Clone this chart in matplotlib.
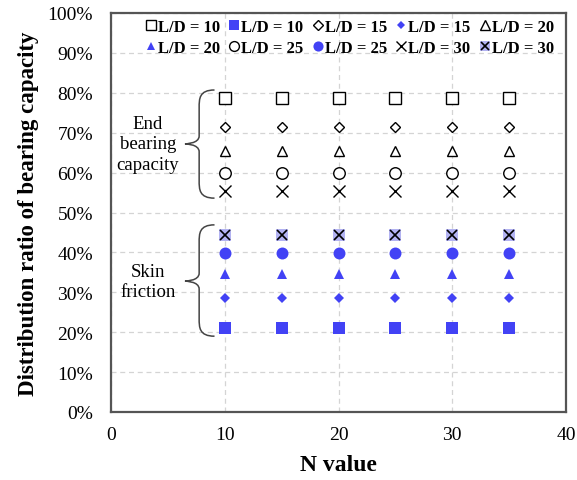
import matplotlib

matplotlib.use("Agg")
import matplotlib.pyplot as plt
from matplotlib.path import Path
from matplotlib.patches import PathPatch
from matplotlib.ticker import PercentFormatter, MultipleLocator
from matplotlib.legend_handler import HandlerTuple

# data (percent of total bearing capacity)
n_values = [10, 15, 20, 25, 30, 35]
ld_ratios = [10, 15, 20, 25, 30]
end_bearing = [
    [78.7, 78.7, 78.7, 78.7, 78.7, 78.7],
    [71.5, 71.5, 71.5, 71.5, 71.5, 71.5],
    [65.5, 65.5, 65.5, 65.5, 65.5, 65.5],
    [59.9, 59.9, 59.9, 59.9, 59.9, 59.9],
    [55.5, 55.5, 55.5, 55.5, 55.5, 55.5],
]
skin_friction = [
    [21.0, 21.0, 21.0, 21.0, 21.0, 21.0],
    [28.6, 28.6, 28.6, 28.6, 28.6, 28.6],
    [34.6, 34.6, 34.6, 34.6, 34.6, 34.6],
    [39.9, 39.9, 39.9, 39.9, 39.9, 39.9],
    [44.4, 44.4, 44.4, 44.4, 44.4, 44.4],
]

BLUE = "#4242f5"
LIGHT = "#b3b3f2"
plt.rcParams["font.family"] = ["Liberation Serif", "DejaVu Serif"]

# (marker, size) per L/D, open and filled variants
end_style = [("s", 8.3), ("D", 5.4), ("^", 7.8), ("o", 8.3), ("x", 8.0)]
skin_style = [("s", 8.8), ("D", 4.8), ("^", 7.6), ("o", 8.6), ("s", 9.2)]

fig = plt.figure(figsize=(5.77, 4.81), dpi=100)
ax = fig.add_axes([111 / 577, 68 / 481, 455 / 577, 399 / 481])

handles, labels = [], []
for i, ld in enumerate(ld_ratios):
    m, ms = end_style[i]
    h_open, = ax.plot(n_values, end_bearing[i], ls="none", marker=m, ms=ms,
                      mfc="white" if m != "x" else "black", mec="black", mew=1.0,
                      color="black", zorder=3)
    m2, ms2 = skin_style[i]
    if ld == 30:
        h_sq, = ax.plot(n_values, skin_friction[i], ls="none", marker="s", ms=ms2,
                        mfc=LIGHT, mec=LIGHT, mew=0, zorder=3)
        h_x, = ax.plot(n_values, skin_friction[i], ls="none", marker="x", ms=7.5,
                       mec="black", mew=1.2, zorder=4)
        h_fill = (h_sq, h_x)
    else:
        h_fill, = ax.plot(n_values, skin_friction[i], ls="none", marker=m2, ms=ms2,
                          mfc=BLUE, mec=BLUE, mew=0, zorder=3)
    handles += [h_open, h_fill]
    labels += [f"L/D = {ld}", f"L/D = {ld}"]

# legend fills column-wise; reorder so it reads row by row
order = [0, 5, 1, 6, 2, 7, 3, 8, 4, 9]
handles = [handles[k] for k in order]
labels = [labels[k] for k in order]

ax.set_xlim(0, 40)
ax.set_ylim(0, 100)
ax.xaxis.set_major_locator(MultipleLocator(10))
ax.yaxis.set_major_locator(MultipleLocator(10))
ax.yaxis.set_major_formatter(PercentFormatter(decimals=0))
ax.grid(True, ls=(0, (4, 3)), color="#d4d4d4", lw=0.9)
ax.set_axisbelow(True)
ax.tick_params(length=0, labelsize=14)
ax.tick_params(axis="y", pad=13)
ax.tick_params(axis="x", pad=10)
for sp in ax.spines.values():
    sp.set_color("#555555")
    sp.set_linewidth(1.6)

ax.set_xlabel("N value", fontsize=17, fontweight="bold", labelpad=8)
ax.set_ylabel("Distribution ratio of bearing capacity", fontsize=16.5,
              fontweight="bold", labelpad=6)

leg = ax.legend(handles, labels, ncol=5, loc="upper right",
                bbox_to_anchor=(0.995, 1.01), frameon=False,
                prop={"size": 12, "weight": "bold"}, handlelength=0.6,
                handletextpad=0.12, columnspacing=0.55, labelspacing=0.3,
                borderaxespad=0.2, markerscale=0.85,
                handler_map={tuple: HandlerTuple(ndivide=1)})


def brace(ax, x_end, x_mid, x_tip, y_top, y_bot, y_tip):
    # curly brace opening to the right
    r = 2.2
    verts = [
        (x_end, y_top), (x_mid, y_top), (x_mid, y_top - r), (x_mid, y_top - 2 * r),
        (x_mid, y_tip + 2.0),
        (x_mid, y_tip), (x_tip, y_tip), (x_tip, y_tip),
        (x_tip, y_tip), (x_mid, y_tip), (x_mid, y_tip - 2.0),
        (x_mid, y_bot + 2 * r),
        (x_mid, y_bot + r), (x_mid, y_bot), (x_end, y_bot),
    ]
    codes = [Path.MOVETO, Path.CURVE4, Path.CURVE4, Path.CURVE4,
             Path.LINETO,
             Path.CURVE4, Path.CURVE4, Path.CURVE4,
             Path.CURVE4, Path.CURVE4, Path.CURVE4,
             Path.LINETO,
             Path.CURVE4, Path.CURVE4, Path.CURVE4]
    ax.add_patch(PathPatch(Path(verts, codes), fill=False, ec="#444444",
                           lw=1.1, zorder=3))


brace(ax, 9.1, 7.75, 6.5, 80.7, 53.6, 67.2)
brace(ax, 9.1, 7.75, 6.5, 46.9, 19.0, 32.8)

ax.text(3.25, 67.2, "End\nbearing\ncapacity", ha="center", va="center",
        fontsize=13.5, linespacing=1.25)
ax.text(3.25, 32.8, "Skin\nfriction", ha="center", va="center",
        fontsize=13.5, linespacing=1.25)

fig.savefig("out.png", dpi=100)
